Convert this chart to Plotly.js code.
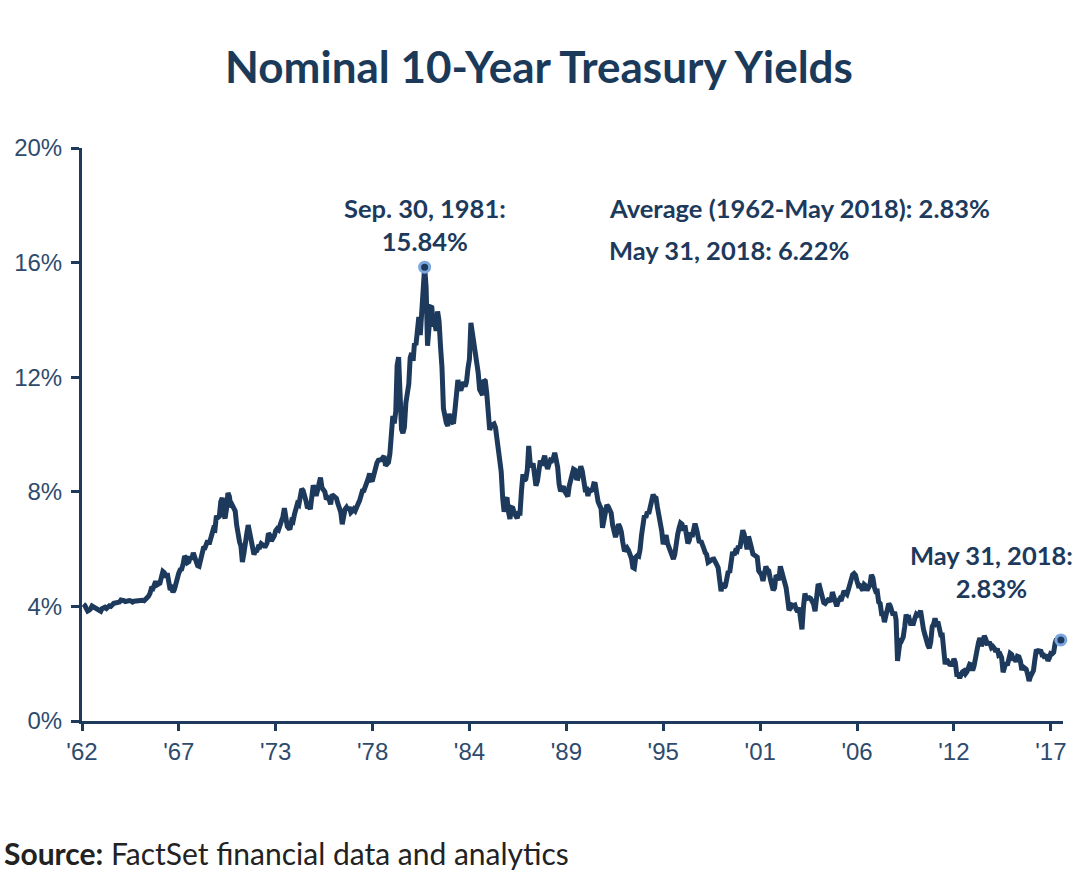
<!DOCTYPE html>
<html>
<head>
<meta charset="utf-8">
<script src="https://cdn.plot.ly/plotly-3.0.1.min.js"></script>
<style>html,body{margin:0;padding:0;background:#fff;}#chart{width:1078px;height:876px;}</style>
</head>
<body>
<div id="chart"></div>
<script>
// Month-end 10-year Treasury yields (%), Jan 1962 onward
const startYear = 1962;
const yields1960s = [
  4.08,4.04,3.93,3.84,3.87,3.91,4.01,3.98,3.98,3.93,3.92,3.86,
  3.83,3.92,3.93,3.97,3.93,3.99,4.02,4.00,4.08,4.11,4.12,4.13,
  4.17,4.15,4.22,4.23,4.20,4.17,4.19,4.19,4.20,4.19,4.15,4.18,
  4.19,4.21,4.21,4.20,4.21,4.21,4.20,4.25,4.29,4.35,4.45,4.62,
  4.61,4.83,4.87,4.75,4.78,4.81,5.02,5.22,5.18,5.01,5.16,4.84,
  4.58,4.63,4.50,4.59,4.85,5.02,5.16,5.28,5.30,5.48,5.75,5.70,
  5.53,5.56,5.74,5.64,5.87,5.72,5.50,5.42,5.40,5.58,5.70,6.03,
  6.04,6.19,6.30,6.17,6.32,6.57,6.72,6.69,7.16,7.10,7.14,7.65
];
const yields1970s = [
  7.79,7.24,7.07,7.39,7.96,7.84,7.46,7.53,7.39,7.33,6.84,6.39,
  6.24,6.11,5.55,5.83,6.39,6.52,6.84,6.58,6.14,5.93,5.81,5.93,
  5.95,6.08,6.07,6.19,6.13,6.11,6.11,6.21,6.55,6.48,6.28,6.36,
  6.46,6.64,6.71,6.67,6.85,6.90,7.13,7.43,7.09,6.79,6.73,6.74,
  6.99,6.96,7.21,7.51,7.58,7.54,7.81,8.10,8.04,7.90,7.68,7.43,
  7.50,7.39,7.73,8.23,8.06,7.86,8.06,8.40,8.50,8.14,8.05,8.00,
  7.74,7.79,7.73,7.56,7.90,7.86,7.83,7.77,7.59,7.41,7.29,6.87,
  7.21,7.39,7.46,7.37,7.46,7.28,7.33,7.40,7.34,7.52,7.58,7.69,
  7.96,8.03,8.04,8.15,8.35,8.46,8.64,8.41,8.42,8.64,8.81,9.01,
  9.10,9.10,9.12,9.18,9.25,8.91,8.95,9.03,9.33,10.30,10.65,10.39
];
const yields1980s = [
  10.80,12.41,12.70,11.47,10.18,10.05,10.25,11.10,11.51,11.75,12.68,12.84,
  12.57,13.19,13.12,13.68,14.10,13.47,14.28,14.94,15.84,15.15,13.10,13.72,
  14.45,14.43,13.86,13.87,13.62,14.30,13.95,13.06,12.34,10.91,10.55,10.40,
  10.30,10.72,10.51,10.40,10.38,10.85,11.38,11.90,11.65,11.54,11.69,11.83,
  11.67,11.84,12.32,12.63,13.90,13.56,13.36,12.72,12.52,12.16,11.57,11.50,
  11.38,11.90,11.86,11.43,10.85,10.16,10.31,10.33,10.37,10.24,9.78,9.26,
  9.19,8.70,7.78,7.30,7.71,7.80,7.30,7.05,7.45,7.43,7.25,7.11,
  7.08,7.25,7.25,8.02,8.61,8.40,8.45,8.76,9.60,9.00,8.86,8.99,
  8.67,8.21,8.37,8.72,9.09,8.92,9.06,9.26,8.98,8.80,8.96,9.11,
  9.09,9.17,9.36,9.18,8.86,8.28,8.02,8.11,8.19,8.01,7.87,7.84
];
const yields1990s = [
  8.21,8.47,8.59,8.79,8.76,8.48,8.47,8.75,8.89,8.72,8.39,8.08,
  8.09,7.85,8.11,8.04,8.07,8.28,8.27,7.90,7.65,7.53,7.42,6.74,
  7.03,7.34,7.54,7.48,7.39,7.26,6.84,6.59,6.42,6.59,6.87,6.77,
  6.60,6.26,5.98,5.97,6.04,5.96,5.81,5.68,5.36,5.33,5.72,5.77,
  5.75,5.97,6.48,6.97,7.18,7.10,7.30,7.24,7.46,7.74,7.90,7.81,
  7.78,7.47,7.20,7.06,6.63,6.17,6.28,6.49,6.20,6.04,5.93,5.71,
  5.65,5.81,6.27,6.51,6.74,6.91,6.87,6.64,6.83,6.53,6.20,6.30,
  6.58,6.42,6.69,6.89,6.71,6.49,6.22,6.30,6.21,6.03,5.88,5.81,
  5.54,5.57,5.65,5.64,5.65,5.50,5.46,5.34,4.81,4.53,4.83,4.65,
  4.72,5.00,5.23,5.18,5.54,5.90,5.79,5.94,5.92,6.11,6.03,6.28
];
const yields2000s = [
  6.66,6.52,6.26,5.99,6.44,6.10,6.05,5.83,5.80,5.74,5.72,5.24,
  5.16,5.10,4.89,5.14,5.39,5.28,5.24,4.97,4.73,4.57,4.65,5.09,
  5.04,4.91,5.40,5.21,5.16,4.93,4.65,4.26,3.87,3.94,4.05,4.03,
  4.05,3.90,3.81,3.96,3.57,3.20,3.98,4.45,4.27,4.29,4.30,4.27,
  4.15,4.08,3.83,4.35,4.72,4.73,4.50,4.28,4.13,4.10,4.19,4.23,
  4.22,4.17,4.50,4.34,4.14,4.00,4.18,4.26,4.20,4.46,4.54,4.47,
  4.42,4.57,4.72,4.99,5.11,5.15,5.09,4.88,4.72,4.73,4.60,4.56,
  4.76,4.72,4.56,4.69,4.75,5.10,5.00,4.67,4.52,4.53,4.15,4.10,
  3.74,3.74,3.45,3.68,3.88,4.10,4.01,3.89,3.69,3.81,3.53,2.10,
  2.52,2.87,2.82,2.93,3.29,3.72,3.56,3.59,3.40,3.39,3.40,3.59
];
const yields2010s = [
  3.73,3.69,3.73,3.85,3.42,3.20,3.01,2.70,2.65,2.54,2.76,3.29,
  3.39,3.58,3.41,3.46,3.17,3.00,3.00,2.30,1.98,2.15,2.01,1.98,
  1.97,1.97,2.17,2.05,1.62,1.62,1.50,1.68,1.72,1.75,1.65,1.72,
  1.91,1.98,1.96,1.76,1.93,2.30,2.58,2.74,2.90,2.62,2.72,2.98,
  2.86,2.71,2.72,2.71,2.56,2.60,2.54,2.42,2.53,2.30,2.33,2.21,
  1.70,1.98,2.04,1.94,2.20,2.36,2.32,2.17,2.17,2.07,2.26,2.24,
  2.09,1.78,1.89,1.81,1.81,1.64,1.40,1.56,1.63,1.76,2.14,2.49,
  2.43,2.42,2.48,2.30,2.30,2.19,2.32,2.10,2.20,2.36,2.35,2.40,
  2.72,2.87,2.74,2.95,2.83
];
const highlightDates = ['1981-09-30', '2018-05-31'];
const highlightValues = [15.84, 2.83];
const tickDates = ['1962-01-01','1967-08-01','1973-03-01','1978-10-01','1984-05-01','1989-12-01','1995-07-01','2001-02-01','2006-09-01','2012-04-01','2017-11-01'];
const tickLabels = ["'62","'67","'73","'78","'84","'89","'95","'01","'06","'12","'17"];
const yTickVals = [0, 4, 8, 12, 16, 20];
const yTickText = ['0%', '4%', '8%', '12%', '16%', '20%'];

const values = [].concat(yields1960s, yields1970s, yields1980s, yields1990s, yields2000s, yields2010s);
const dates = values.map((v, i) => {
  const y = startYear + Math.floor(i / 12);
  const m = i % 12;
  const d = new Date(Date.UTC(y, m + 1, 0));
  return d.toISOString().slice(0, 10);
});

const navy = '#1d3a5c';
const tickColor = '#2e4b6d';

const traces = [
  {
    x: dates, y: values, type: 'scatter', mode: 'lines',
    line: {color: navy, width: 5, shape: 'linear'},
    hoverinfo: 'skip'
  },
  {
    x: highlightDates, y: highlightValues, type: 'scatter', mode: 'markers',
    marker: {color: navy, size: 10, line: {color: '#7ba6de', width: 3}},
    cliponaxis: false, hoverinfo: 'skip'
  }
];

const annFont = {family: 'Lato, "Open Sans", sans-serif', size: 25.5, color: navy};
const layout = {
  width: 1078, height: 876,
  margin: {l: 82, r: 15, t: 148, b: 155},
  paper_bgcolor: '#ffffff', plot_bgcolor: '#ffffff',
  showlegend: false,
  title: {
    text: '<b>Nominal 10-Year Treasury Yields</b>',
    font: {family: 'Lato, "Open Sans", sans-serif', size: 44, color: '#1b3a5a'},
    xref: 'container', x: 0.5, xanchor: 'center',
    yref: 'container', y: 1 - 68 / 876, yanchor: 'middle'
  },
  xaxis: {
    type: 'date', range: ['1962-01-01', '2018-07-15'],
    tickmode: 'array', tickvals: tickDates, ticktext: tickLabels,
    showline: true, linecolor: navy, linewidth: 3, mirror: false,
    ticks: 'outside', ticklen: 7, tickwidth: 3, tickcolor: navy,
    showgrid: false, zeroline: false,
    tickfont: {family: '"Liberation Sans", Arial, sans-serif', size: 24, color: tickColor}
  },
  yaxis: {
    range: [0, 20], tickmode: 'array', tickvals: yTickVals, ticktext: yTickText,
    showline: true, linecolor: navy, linewidth: 3,
    ticks: 'outside', ticklen: 8, tickwidth: 3, tickcolor: navy,
    ticklabelstandoff: 4,
    showgrid: false, zeroline: false,
    tickfont: {family: '"Liberation Sans", Arial, sans-serif', size: 24, color: tickColor}
  },
  annotations: [
    {
      x: highlightDates[0], y: highlightValues[0], xref: 'x', yref: 'y',
      text: '<b>Sep. 30, 1981:</b><br><b>15.84%</b>', showarrow: false,
      xanchor: 'center', yanchor: 'bottom', yshift: 9, align: 'center', font: annFont
    },
    {
      x: (607 - 82) / 981, y: (721 - 208) / 573, xref: 'paper', yref: 'paper',
      text: '<b>Average (1962-May 2018): 2.83%</b>', showarrow: false,
      xanchor: 'left', yanchor: 'middle', font: annFont
    },
    {
      x: (607 - 82) / 981, y: (721 - 250) / 573, xref: 'paper', yref: 'paper',
      text: '<b>May 31, 2018: 6.22%</b>', showarrow: false,
      xanchor: 'left', yanchor: 'middle', font: annFont
    },
    {
      x: (991 - 82) / 981, y: (721 - 571) / 573, xref: 'paper', yref: 'paper',
      text: '<b>May 31, 2018:</b><br><b>2.83%</b>', showarrow: false,
      xanchor: 'center', yanchor: 'middle', align: 'center', font: annFont
    },
    {
      x: (2 - 82) / 981, y: (721 - 853) / 573, xref: 'paper', yref: 'paper',
      text: '<b>Source:</b> FactSet financial data and analytics', showarrow: false,
      xanchor: 'left', yanchor: 'middle', align: 'left',
      font: {family: 'Lato, "Open Sans", sans-serif', size: 30, color: '#222222'}
    }
  ]
};

Plotly.newPlot('chart', traces, layout, {displayModeBar: false, staticPlot: true});
</script>
</body>
</html>
